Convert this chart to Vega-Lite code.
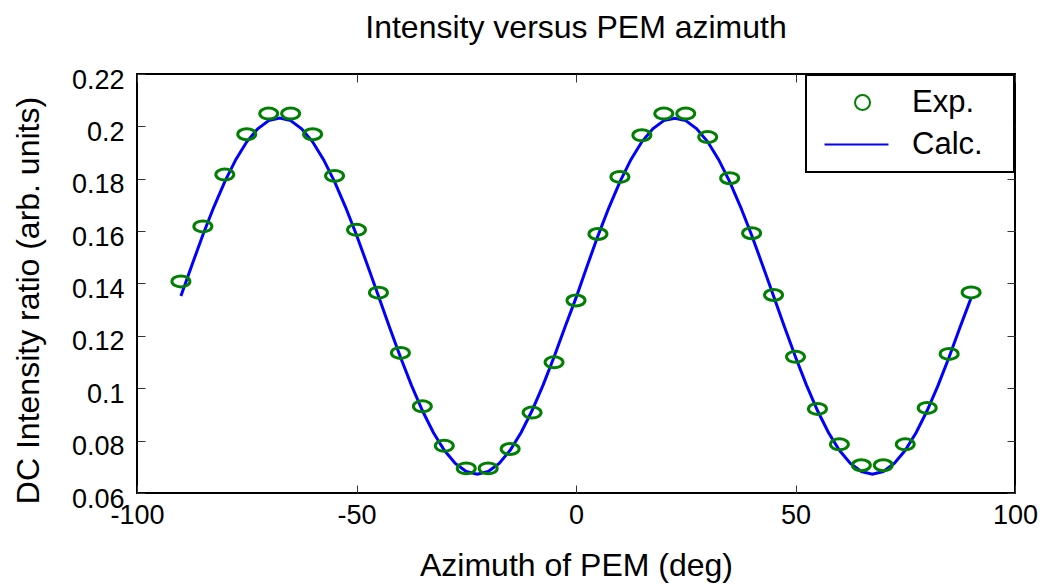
{
  "$schema": "https://vega.github.io/schema/vega-lite/v6.json",
  "width": 878,
  "height": 419,
  "autosize": {"type": "none"},
  "padding": {"left": 137, "top": 74, "right": 29, "bottom": 95},
  "background": "white",
  "title": {"text": "Intensity versus PEM azimuth", "fontSize": 32, "font": "Liberation Sans", "fontWeight": "normal", "color": "black", "offset": 5, "dy": 9, "baseline": "alphabetic", "anchor": "middle"},
  "datasets": {
    "exp": [
      {"azimuth": -90, "ratio": 0.1408, "series": "Exp."},
      {"azimuth": -85, "ratio": 0.1618, "series": "Exp."},
      {"azimuth": -80, "ratio": 0.1816, "series": "Exp."},
      {"azimuth": -75, "ratio": 0.1970, "series": "Exp."},
      {"azimuth": -70, "ratio": 0.2049, "series": "Exp."},
      {"azimuth": -65, "ratio": 0.2049, "series": "Exp."},
      {"azimuth": -60, "ratio": 0.1970, "series": "Exp."},
      {"azimuth": -55, "ratio": 0.1811, "series": "Exp."},
      {"azimuth": -50, "ratio": 0.1605, "series": "Exp."},
      {"azimuth": -45, "ratio": 0.1365, "series": "Exp."},
      {"azimuth": -40, "ratio": 0.1135, "series": "Exp."},
      {"azimuth": -35, "ratio": 0.0931, "series": "Exp."},
      {"azimuth": -30, "ratio": 0.0780, "series": "Exp."},
      {"azimuth": -25, "ratio": 0.0694, "series": "Exp."},
      {"azimuth": -20, "ratio": 0.0694, "series": "Exp."},
      {"azimuth": -15, "ratio": 0.0768, "series": "Exp."},
      {"azimuth": -10, "ratio": 0.0907, "series": "Exp."},
      {"azimuth": -5, "ratio": 0.1099, "series": "Exp."},
      {"azimuth": 0, "ratio": 0.1335, "series": "Exp."},
      {"azimuth": 5, "ratio": 0.1589, "series": "Exp."},
      {"azimuth": 10, "ratio": 0.1807, "series": "Exp."},
      {"azimuth": 15, "ratio": 0.1966, "series": "Exp."},
      {"azimuth": 20, "ratio": 0.2049, "series": "Exp."},
      {"azimuth": 25, "ratio": 0.2049, "series": "Exp."},
      {"azimuth": 30, "ratio": 0.1959, "series": "Exp."},
      {"azimuth": 35, "ratio": 0.1802, "series": "Exp."},
      {"azimuth": 40, "ratio": 0.1592, "series": "Exp."},
      {"azimuth": 45, "ratio": 0.1356, "series": "Exp."},
      {"azimuth": 50, "ratio": 0.1120, "series": "Exp."},
      {"azimuth": 55, "ratio": 0.0921, "series": "Exp."},
      {"azimuth": 60, "ratio": 0.0786, "series": "Exp."},
      {"azimuth": 65, "ratio": 0.0706, "series": "Exp."},
      {"azimuth": 70, "ratio": 0.0706, "series": "Exp."},
      {"azimuth": 75, "ratio": 0.0786, "series": "Exp."},
      {"azimuth": 80, "ratio": 0.0925, "series": "Exp."},
      {"azimuth": 85, "ratio": 0.1131, "series": "Exp."},
      {"azimuth": 90, "ratio": 0.1366, "series": "Exp."}
    ],
    "calc": [
      {"azimuth": -90, "ratio": 0.1352, "series": "Calc."},
      {"azimuth": -87.5, "ratio": 0.1470, "series": "Calc."},
      {"azimuth": -85, "ratio": 0.1585, "series": "Calc."},
      {"azimuth": -82.5, "ratio": 0.1692, "series": "Calc."},
      {"azimuth": -80, "ratio": 0.1789, "series": "Calc."},
      {"azimuth": -77.5, "ratio": 0.1873, "series": "Calc."},
      {"azimuth": -75, "ratio": 0.1941, "series": "Calc."},
      {"azimuth": -72.5, "ratio": 0.1991, "series": "Calc."},
      {"azimuth": -70, "ratio": 0.2022, "series": "Calc."},
      {"azimuth": -67.5, "ratio": 0.2032, "series": "Calc."},
      {"azimuth": -65, "ratio": 0.2022, "series": "Calc."},
      {"azimuth": -62.5, "ratio": 0.1991, "series": "Calc."},
      {"azimuth": -60, "ratio": 0.1941, "series": "Calc."},
      {"azimuth": -57.5, "ratio": 0.1873, "series": "Calc."},
      {"azimuth": -55, "ratio": 0.1789, "series": "Calc."},
      {"azimuth": -52.5, "ratio": 0.1692, "series": "Calc."},
      {"azimuth": -50, "ratio": 0.1585, "series": "Calc."},
      {"azimuth": -47.5, "ratio": 0.1470, "series": "Calc."},
      {"azimuth": -45, "ratio": 0.1352, "series": "Calc."},
      {"azimuth": -42.5, "ratio": 0.1234, "series": "Calc."},
      {"azimuth": -40, "ratio": 0.1119, "series": "Calc."},
      {"azimuth": -37.5, "ratio": 0.1012, "series": "Calc."},
      {"azimuth": -35, "ratio": 0.0915, "series": "Calc."},
      {"azimuth": -32.5, "ratio": 0.0831, "series": "Calc."},
      {"azimuth": -30, "ratio": 0.0763, "series": "Calc."},
      {"azimuth": -27.5, "ratio": 0.0713, "series": "Calc."},
      {"azimuth": -25, "ratio": 0.0682, "series": "Calc."},
      {"azimuth": -22.5, "ratio": 0.0672, "series": "Calc."},
      {"azimuth": -20, "ratio": 0.0682, "series": "Calc."},
      {"azimuth": -17.5, "ratio": 0.0713, "series": "Calc."},
      {"azimuth": -15, "ratio": 0.0763, "series": "Calc."},
      {"azimuth": -12.5, "ratio": 0.0831, "series": "Calc."},
      {"azimuth": -10, "ratio": 0.0915, "series": "Calc."},
      {"azimuth": -7.5, "ratio": 0.1012, "series": "Calc."},
      {"azimuth": -5, "ratio": 0.1119, "series": "Calc."},
      {"azimuth": -2.5, "ratio": 0.1234, "series": "Calc."},
      {"azimuth": 0, "ratio": 0.1345, "series": "Calc."},
      {"azimuth": 2.5, "ratio": 0.1465, "series": "Calc."},
      {"azimuth": 5, "ratio": 0.1582, "series": "Calc."},
      {"azimuth": 7.5, "ratio": 0.1690, "series": "Calc."},
      {"azimuth": 10, "ratio": 0.1788, "series": "Calc."},
      {"azimuth": 12.5, "ratio": 0.1873, "series": "Calc."},
      {"azimuth": 15, "ratio": 0.1941, "series": "Calc."},
      {"azimuth": 17.5, "ratio": 0.1991, "series": "Calc."},
      {"azimuth": 20, "ratio": 0.2022, "series": "Calc."},
      {"azimuth": 22.5, "ratio": 0.2031, "series": "Calc."},
      {"azimuth": 25, "ratio": 0.2022, "series": "Calc."},
      {"azimuth": 27.5, "ratio": 0.1991, "series": "Calc."},
      {"azimuth": 30, "ratio": 0.1941, "series": "Calc."},
      {"azimuth": 32.5, "ratio": 0.1873, "series": "Calc."},
      {"azimuth": 35, "ratio": 0.1789, "series": "Calc."},
      {"azimuth": 37.5, "ratio": 0.1692, "series": "Calc."},
      {"azimuth": 40, "ratio": 0.1585, "series": "Calc."},
      {"azimuth": 42.5, "ratio": 0.1470, "series": "Calc."},
      {"azimuth": 45, "ratio": 0.1352, "series": "Calc."},
      {"azimuth": 47.5, "ratio": 0.1234, "series": "Calc."},
      {"azimuth": 50, "ratio": 0.1119, "series": "Calc."},
      {"azimuth": 52.5, "ratio": 0.1012, "series": "Calc."},
      {"azimuth": 55, "ratio": 0.0915, "series": "Calc."},
      {"azimuth": 57.5, "ratio": 0.0831, "series": "Calc."},
      {"azimuth": 60, "ratio": 0.0763, "series": "Calc."},
      {"azimuth": 62.5, "ratio": 0.0713, "series": "Calc."},
      {"azimuth": 65, "ratio": 0.0682, "series": "Calc."},
      {"azimuth": 67.5, "ratio": 0.0672, "series": "Calc."},
      {"azimuth": 70, "ratio": 0.0682, "series": "Calc."},
      {"azimuth": 72.5, "ratio": 0.0713, "series": "Calc."},
      {"azimuth": 75, "ratio": 0.0763, "series": "Calc."},
      {"azimuth": 77.5, "ratio": 0.0831, "series": "Calc."},
      {"azimuth": 80, "ratio": 0.0915, "series": "Calc."},
      {"azimuth": 82.5, "ratio": 0.1012, "series": "Calc."},
      {"azimuth": 85, "ratio": 0.1119, "series": "Calc."},
      {"azimuth": 87.5, "ratio": 0.1234, "series": "Calc."},
      {"azimuth": 90, "ratio": 0.1345, "series": "Calc."}
    ]
  },
  "layer": [
    {
      "data": {"name": "calc"},
      "mark": {"type": "line", "strokeWidth": 3, "interpolate": "linear"},
      "encoding": {
        "x": {
          "field": "azimuth", "type": "quantitative",
          "scale": {"domain": [-100, 100], "nice": false, "zero": false},
          "axis": {
            "orient": "bottom", "values": [-100, -50, 0, 50, 100], "title": "Azimuth of PEM (deg)",
            "labelExpr": "datum.value < 0 ? '-' + abs(datum.value) : '' + datum.value",
            "tickSize": -8, "labelPadding": 17, "titleY": 82, "titleBaseline": "alphabetic",
            "encode": {"labels": {"update": {"dx": {"signal": "datum.value < 0 ? -5 : 0"}}}}
          }
        },
        "y": {
          "field": "ratio", "type": "quantitative",
          "scale": {"domain": [0.06, 0.22], "nice": false, "zero": false},
          "axis": {
            "orient": "left", "values": [0.06, 0.08, 0.1, 0.12, 0.14, 0.16, 0.18, 0.2, 0.22], "format": ".2~f",
            "title": "DC Intensity ratio (arb. units)", "tickSize": -8, "labelPadding": 21, "labelOffset": 6,
            "titleX": -99, "titleY": 226, "titleAngle": 270, "titleBaseline": "alphabetic", "titleAlign": "center"
          }
        },
        "color": {
          "field": "series", "type": "nominal",
          "scale": {"domain": ["Exp.", "Calc."], "range": ["#008000", "#0000ff"]},
          "legend": {
            "orient": "none", "legendX": 669, "legendY": 1, "title": null,
            "padding": 12, "labelFontSize": 31, "labelFont": "Liberation Sans", "labelColor": "black",
            "symbolSize": 225, "symbolStrokeWidth": 2, "labelOffset": 63, "rowPadding": 10,
            "strokeColor": "black", "fillColor": "white",
            "encode": {
              "legend": {"update": {"strokeWidth": {"value": 2}}},
              "symbols": {"update": {
                "shape": [{"test": "datum.value === 'Calc.'", "value": "M-1.2,0H7.33M21.9,0"}, {"value": "M4.87,0A1,1,0,1,1,2.87,0A1,1,0,1,1,4.87,0ZM21.9,0"}],
                "stroke": [{"test": "datum.value === 'Calc.'", "value": "#0000ff"}, {"value": "#008000"}],
                "fill": {"value": "transparent"},
                "strokeWidth": {"value": 2},
                "opacity": {"value": 1}
              }}
            }
          }
        }
      }
    },
    {
      "data": {"name": "exp"},
      "mark": {"type": "point", "filled": false, "strokeWidth": 3, "size": 324, "opacity": 1, "shape": "M-1,0A1,0.61,0,1,1,1,0A1,0.61,0,1,1,-1,0Z"},
      "encoding": {
        "x": {
          "field": "azimuth", "type": "quantitative",
          "axis": {"orient": "top", "values": [-100, -50, 0, 50, 100], "labels": false, "title": null, "tickSize": -8}
        },
        "y": {
          "field": "ratio", "type": "quantitative",
          "axis": {"orient": "right", "values": [0.06, 0.08, 0.1, 0.12, 0.14, 0.16, 0.18, 0.2, 0.22], "labels": false, "title": null, "tickSize": -8}
        },
        "color": {"field": "series", "type": "nominal"}
      }
    }
  ],
  "resolve": {"axis": {"x": "independent", "y": "independent"}},
  "config": {
    "view": {"stroke": "black", "strokeWidth": 2},
    "axis": {
      "domain": false, "grid": false, "tickColor": "#333333", "tickWidth": 1,
      "labelFont": "Liberation Sans", "labelFontSize": 27, "labelColor": "black",
      "titleFont": "Liberation Sans", "titleFontSize": 32, "titleFontWeight": "normal", "titleColor": "black",
      "labelFlush": false, "labelOverlap": false, "labelBound": false
    }
  }
}
